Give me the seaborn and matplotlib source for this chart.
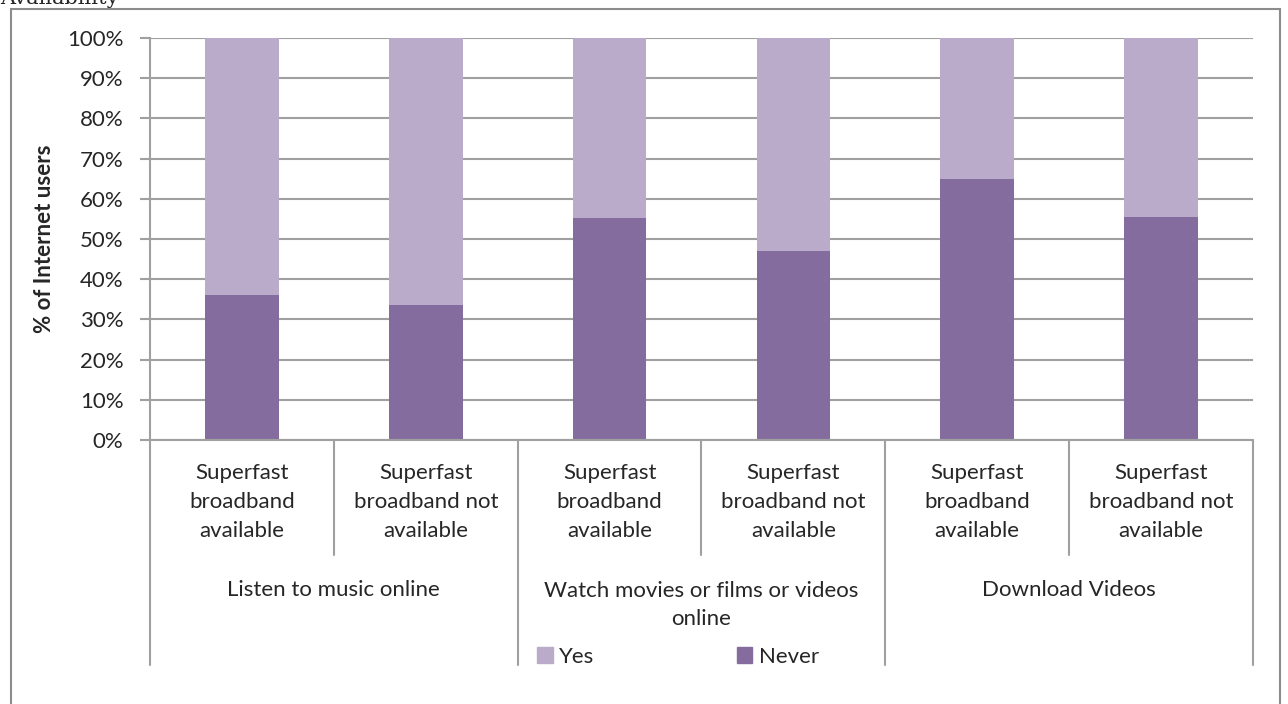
import numpy as np
import pandas as pd
import matplotlib
matplotlib.use("Agg")
import matplotlib.pyplot as plt
import matplotlib.patches as mpatches
import seaborn as sns

# chart data
groups = ["Listen to music online", "Watch movies or films or videos\nonline", "Download Videos"]
subgroups = ["Superfast\nbroadband\navailable", "Superfast\nbroadband not\navailable"]
never = [36.0, 33.6, 55.2, 47.0, 64.9, 55.5]
yes = [100 - v for v in never]
ytick_labels = [f"{v}%" for v in range(0, 101, 10)]

YES_COLOR = "#B9ABC9"
NEVER_COLOR = "#846D9E"
GRID = "#A0A0A0"
FS = 16

sns.set_style("white")
plt.rcParams["font.family"] = ["Lato", "DejaVu Sans"]

bars = [f"{g}|{s}" for g in groups for s in subgroups]
df = pd.DataFrame({"bar": bars, "never": never, "yes": yes})
df["total"] = df["never"] + df["yes"]

W, H = 1288, 704
fig = plt.figure(figsize=(W / 100, H / 100), dpi=100)
ax = fig.add_axes([150 / W, 1 - 440 / H, (1253 - 150) / W, (440 - 38) / H])

sns.barplot(data=df, x="bar", y="total", color=YES_COLOR, width=0.4,
            saturation=1, ax=ax, zorder=3, edgecolor="none")
sns.barplot(data=df, x="bar", y="never", color=NEVER_COLOR, width=0.4,
            saturation=1, ax=ax, zorder=3, edgecolor="none")

ax.set_ylim(0, 100)
ax.set_xlim(-0.5, len(bars) - 0.5)
ax.set_yticks(range(0, 101, 10))
ax.set_yticklabels(ytick_labels, fontsize=FS)
ax.yaxis.grid(True, color=GRID, linewidth=1.5, zorder=0)
ax.tick_params(axis="y", length=7, width=1.5, color=GRID, pad=12, left=True)
ax.set_xticks([])
ax.set_xlabel("")
ax.set_ylabel("% of Internet users", fontsize=FS, fontweight="bold", labelpad=9)
for side in ["top", "right", "bottom"]:
    ax.spines[side].set_visible(False)
ax.spines["left"].set_color(GRID)
ax.spines["left"].set_linewidth(1.5)

# x axis line and hierarchical category labels
trans = ax.get_xaxis_transform()
ax.plot([-0.5, len(bars) - 0.5], [0, 0], color=GRID, lw=1.5, transform=trans, clip_on=False, zorder=4)
px = 1 / (440 - 38)
for i in range(len(bars) + 1):
    xpos = i - 0.5
    depth = 225 if i % 2 == 0 else 115
    ax.plot([xpos, xpos], [0, -depth * px], color=GRID, lw=1.5, transform=trans, clip_on=False)
for i, b in enumerate(bars):
    ax.text(i, -62 * px, subgroups[i % 2], transform=trans, ha="center", va="center",
            fontsize=FS, linespacing=1.55)
for j, g in enumerate(groups):
    ax.text(2 * j + 0.5, -150 * px if "\n" not in g else -165 * px, g, transform=trans,
            ha="center", va="center", fontsize=FS, linespacing=1.55)

# legend
handles = [mpatches.Patch(color=YES_COLOR, label="Yes"),
           mpatches.Patch(color=NEVER_COLOR, label="Never")]
fig.legend(handles=handles, loc="center", bbox_to_anchor=(678 / W, 1 - 657 / H), ncol=2,
           frameon=False, fontsize=FS, handlelength=0.7, handleheight=0.7,
           handletextpad=0.3, columnspacing=6.4)

# outer chart frame and cut-off heading
fig.patches.append(mpatches.Rectangle((11 / W, -0.05), (1280 - 11) / W, 1.05 - 9 / H,
                                      transform=fig.transFigure, fill=False,
                                      edgecolor="#8C8C8C", lw=1.5))
fig.text(0.0, 1 - 4 / H, "Availability", family="DejaVu Serif", fontsize=15, va="baseline")

fig.savefig("out.png", dpi=100)
